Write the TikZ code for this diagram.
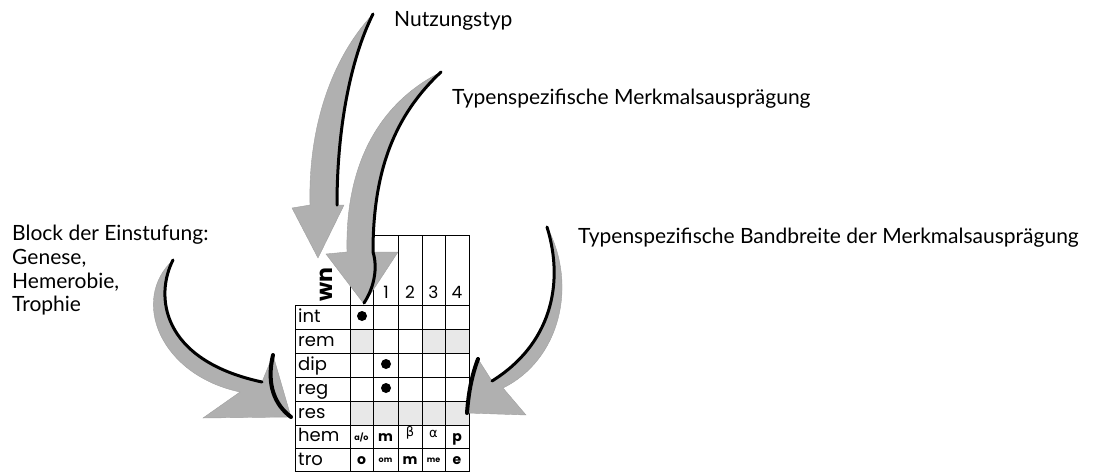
\documentclass[tikz,border=0pt]{standalone}
\usepackage{fontspec}
\setmainfont{Lato}
\newfontfamily\tabfont{Poppins}
\newfontfamily\grfont{DejaVu Sans}
\tikzset{
  lbl/.style={anchor=base west, inner sep=0pt, font=\fontsize{21}{24}\selectfont},
  rowlbl/.style={anchor=base west, inner sep=0pt, font=\tabfont\fontsize{18}{20}\selectfont},
  numlbl/.style={anchor=base, inner sep=0pt, font=\tabfont\fontsize{17}{18}\selectfont},
  boldcell/.style={inner sep=0pt, font=\tabfont\bfseries\fontsize{14}{16}\selectfont},
  tinycell/.style={inner sep=0pt, font=\tabfont\bfseries\fontsize{8}{9}\selectfont},
  greekcell/.style={inner sep=0pt, font=\grfont\fontsize{13}{14}\selectfont},
  gridline/.style={line width=0.8pt, black},
  lightfill/.style={fill=gray!18},
  arrowbody/.style={fill=gray!62, draw=gray!75, line width=0.4pt},
  blackedge/.style={line width=3pt, black, line cap=round},
  dotmark/.style={circle, fill=black, minimum size=10pt, inner sep=0pt}
}
\begin{document}
\begin{tikzpicture}[x=1pt,y=-1pt]
\useasboundingbox (0,0) rectangle (1100,472);
% ---------- table ----------
\fill[lightfill] (350,329) rectangle (373,353);
\fill[lightfill] (422,329) rectangle (469,353);
\fill[lightfill] (350,401) rectangle (469,425);
\draw[gridline] (373,235) -- (469,235);
\foreach \y in {305,329,353,377,401,425,448,471.5} \draw[gridline] (295,\y) -- (469,\y);
\draw[gridline] (295,305) -- (295,472);
\draw[gridline] (350,280) -- (350,472);
\foreach \x in {373,398,422,445,469} \draw[gridline] (\x,235) -- (\x,472);
% header
\node[rotate=90, inner sep=0pt, font=\tabfont\bfseries\fontsize{22}{24}\selectfont] (wn) at (326,285) {wn};
\node[numlbl] (n1) at (386,298) {1};
\node[numlbl] (n2) at (410,298) {2};
\node[numlbl] (n3) at (433.5,298) {3};
\node[numlbl] (n4) at (457,298) {4};
% row labels
\node[rowlbl] (rint) at (298,322) {int};
\node[rowlbl] (rrem) at (298,346) {rem};
\node[rowlbl] (rdip) at (298,370) {dip};
\node[rowlbl] (rreg) at (298,394) {reg};
\node[rowlbl] (rres) at (298,418) {res};
\node[rowlbl] (rhem) at (298,441) {hem};
\node[rowlbl] (rtro) at (298,465) {tro};
% dots
\node[dotmark] (d1) at (362,316) {};
\node[dotmark] (d2) at (386,364) {};
\node[dotmark] (d3) at (386,388) {};
% hem row
\node[tinycell] (h0) at (361.5,437) {a/o};
\node[boldcell] (h1) at (385.5,438) {m};
\node[greekcell] (h2) at (410,433) {β};
\node[greekcell] (h3) at (433.5,434) {α};
\node[boldcell] (h4) at (457,439) {p};
% tro row
\node[boldcell] (t0) at (361.5,461) {o};
\node[tinycell] (t1) at (385.5,460) {om};
\node[boldcell] (t2) at (410,461) {m};
\node[tinycell] (t3) at (433.5,460) {me};
\node[boldcell] (t4) at (457,461) {e};
% ---------- texts ----------
\node[lbl] (tnutz) at (394,26) {Nutzungstyp};
\node[lbl] (tmerk) at (452,104) {Typenspezifische Merkmalsausprägung};
\node[lbl] (tband) at (578,243) {Typenspezifische Bandbreite der Merkmalsausprägung};
\node[lbl] (tb1) at (12,240) {Block der Einstufung:};
\node[lbl] (tb2) at (12,264) {Genese,};
\node[lbl] (tb3) at (12,288) {Hemerobie,};
\node[lbl] (tb4) at (12,311) {Trophie};
% ---------- arrows ----------
\fill[arrowbody] (373,14) .. controls (350,60) and (337,130) .. (337,205)
  -- (344,205) -- (318,258) -- (292,208) -- (310,205)
  .. controls (308,130) and (330,60) .. (373,14) -- cycle;
\draw[blackedge] (373,14) .. controls (350,60) and (337,130) .. (337,205);
\fill[arrowbody] (441,72) .. controls (395,115) and (373,170) .. (373,252)
  -- (398,252) -- (364,304) -- (326,254) -- (347,252)
  .. controls (345,170) and (375,105) .. (441,72) -- cycle;
\draw[blackedge] (441,72) .. controls (395,115) and (373,170) .. (373,252)
  .. controls (378,268) and (374,288) .. (364,303);
\fill[arrowbody] (173,260) .. controls (155,295) and (160,360) .. (262,382)
  -- (273,355) -- (291,417) -- (203,418) -- (240,392)
  .. controls (160,375) and (130,300) .. (173,260) -- cycle;
\draw[blackedge] (173,260) .. controls (155,295) and (160,360) .. (262,382);
\draw[line width=4pt, black, line cap=round] (273,355) .. controls (266,385) and (275,405) .. (291,417);
\fill[arrowbody] (547,227) .. controls (565,285) and (550,345) .. (492,381)
  -- (478,359) -- (467,413) -- (526,415) -- (503,388)
  .. controls (560,360) and (578,285) .. (547,227) -- cycle;
\draw[blackedge] (547,227) .. controls (565,285) and (550,345) .. (492,381);
\draw[line width=4pt, black, line cap=round] (478,359) .. controls (470,380) and (468,400) .. (467,413);
\end{tikzpicture}
\end{document}
